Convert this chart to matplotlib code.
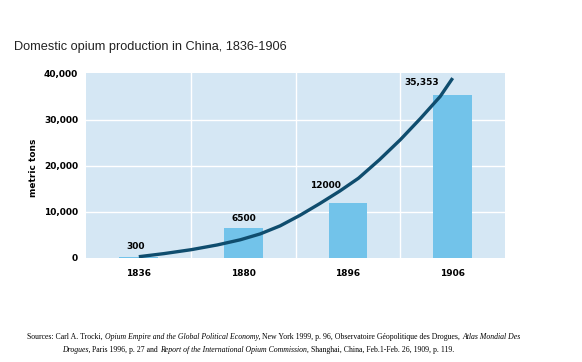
import matplotlib
matplotlib.use("Agg")
import matplotlib.pyplot as plt
from matplotlib.ticker import FuncFormatter

# data
years = ["1836", "1880", "1896", "1906"]
production = [300, 6500, 12000, 35353]
value_labels = ["300", "6500", "12000", "35,353"]
y_ticks = [0, 10000, 20000, 30000, 40000]

# trend curve, points (x in category units)
trend_x = [0.0, 0.24, 0.5, 0.75, 0.97, 1.16, 1.35, 1.54, 1.73, 1.92,
           2.1, 2.3, 2.5, 2.69, 2.88, 3.0]
trend_y = [280, 950, 1800, 2830, 3950, 5220, 6960, 9250, 11800, 14500,
           17300, 21300, 25650, 30200, 35000, 39000]

title = "Domestic opium production in China, 1836-1906"
source_line1 = [
    ("Sources: Carl A. Trocki, ", "normal"),
    ("Opium Empire and the Global Political Economy,", "italic"),
    (" New York 1999, p. 96, Observatoire G\u00e9opolitique des Drogues, ", "normal"),
    ("Atlas Mondial Des", "italic"),
]
source_line2 = [
    ("Drogues,", "italic"),
    (" Paris 1996, p. 27 and ", "normal"),
    ("Report of the International Opium Commission,", "italic"),
    (" Shanghai, China, Feb.1-Feb. 26, 1909, p. 119.", "normal"),
]

bg_color = "#d5e7f4"
bar_color = "#72c3ea"
line_color = "#0f4d6e"
narrow = ["DejaVu Sans Condensed", "Liberation Sans Narrow", "DejaVu Sans"]

fig = plt.figure(figsize=(5.82, 3.62), dpi=100)
ax = fig.add_axes([0.1486, 0.2873, 0.7191, 0.5097])
ax.set_facecolor(bg_color)

xpos = list(range(len(years)))
ax.bar(xpos, production, width=0.37, color=bar_color, zorder=2)
ax.plot(trend_x, trend_y, color=line_color, linewidth=2.4, solid_capstyle="butt", zorder=3)

ax.set_xlim(-0.5, len(years) - 0.5)
ax.set_ylim(0, 40000)
ax.set_yticks(y_ticks)
ax.yaxis.set_major_formatter(FuncFormatter(lambda v, p: "{:,}".format(int(v))))
ax.set_xticks(xpos)
ax.set_xticklabels(years)
for lbl in ax.get_xticklabels() + ax.get_yticklabels():
    lbl.set_family(narrow)
    lbl.set_fontweight("bold")
    lbl.set_fontsize(6.5)
ax.tick_params(axis="x", length=0, pad=8)
ax.tick_params(axis="y", length=0, pad=6)

# white grid: horizontal at ticks, vertical between categories
for v in y_ticks[1:-1]:
    ax.axhline(v, color="white", linewidth=1, zorder=1)
for b in [0.5, 1.5, 2.5]:
    ax.axvline(b, color="white", linewidth=1, zorder=1)
for s in ax.spines.values():
    s.set_visible(False)

# value labels
label_offsets = [(-0.03, 2200), (0, 2100), (-0.22, 3800), (-0.3, 2800)]
for i, (v, txt) in enumerate(zip(production, value_labels)):
    dx, dy = label_offsets[i]
    ax.text(i + dx, v + dy, txt, ha="center", va="center", family=narrow,
            fontweight="bold", fontsize=6.5, zorder=4)

ax.set_ylabel("metric tons", family=narrow, fontweight="bold", fontsize=6.5)
ax.yaxis.set_label_coords(-0.115, 0.49)

fig.text(14 / 582, 1 - 47 / 362, title, family=["Liberation Sans", "DejaVu Sans"],
         fontsize=9.2, color="#222222", va="center", ha="left")


def draw_runs(x_px, y_px, runs, size):
    renderer = fig.canvas.get_renderer()
    x = x_px
    for text, style in runs:
        t = fig.text(x / 582, 1 - y_px / 362, text, family=["Liberation Serif", "DejaVu Serif"],
                     fontstyle=style, fontsize=size, va="center", ha="left")
        bb = t.get_window_extent(renderer)
        x += bb.width


draw_runs(27, 337, source_line1, 5.6)
draw_runs(62, 350, source_line2, 5.6)

fig.savefig("out.png", dpi=100)
